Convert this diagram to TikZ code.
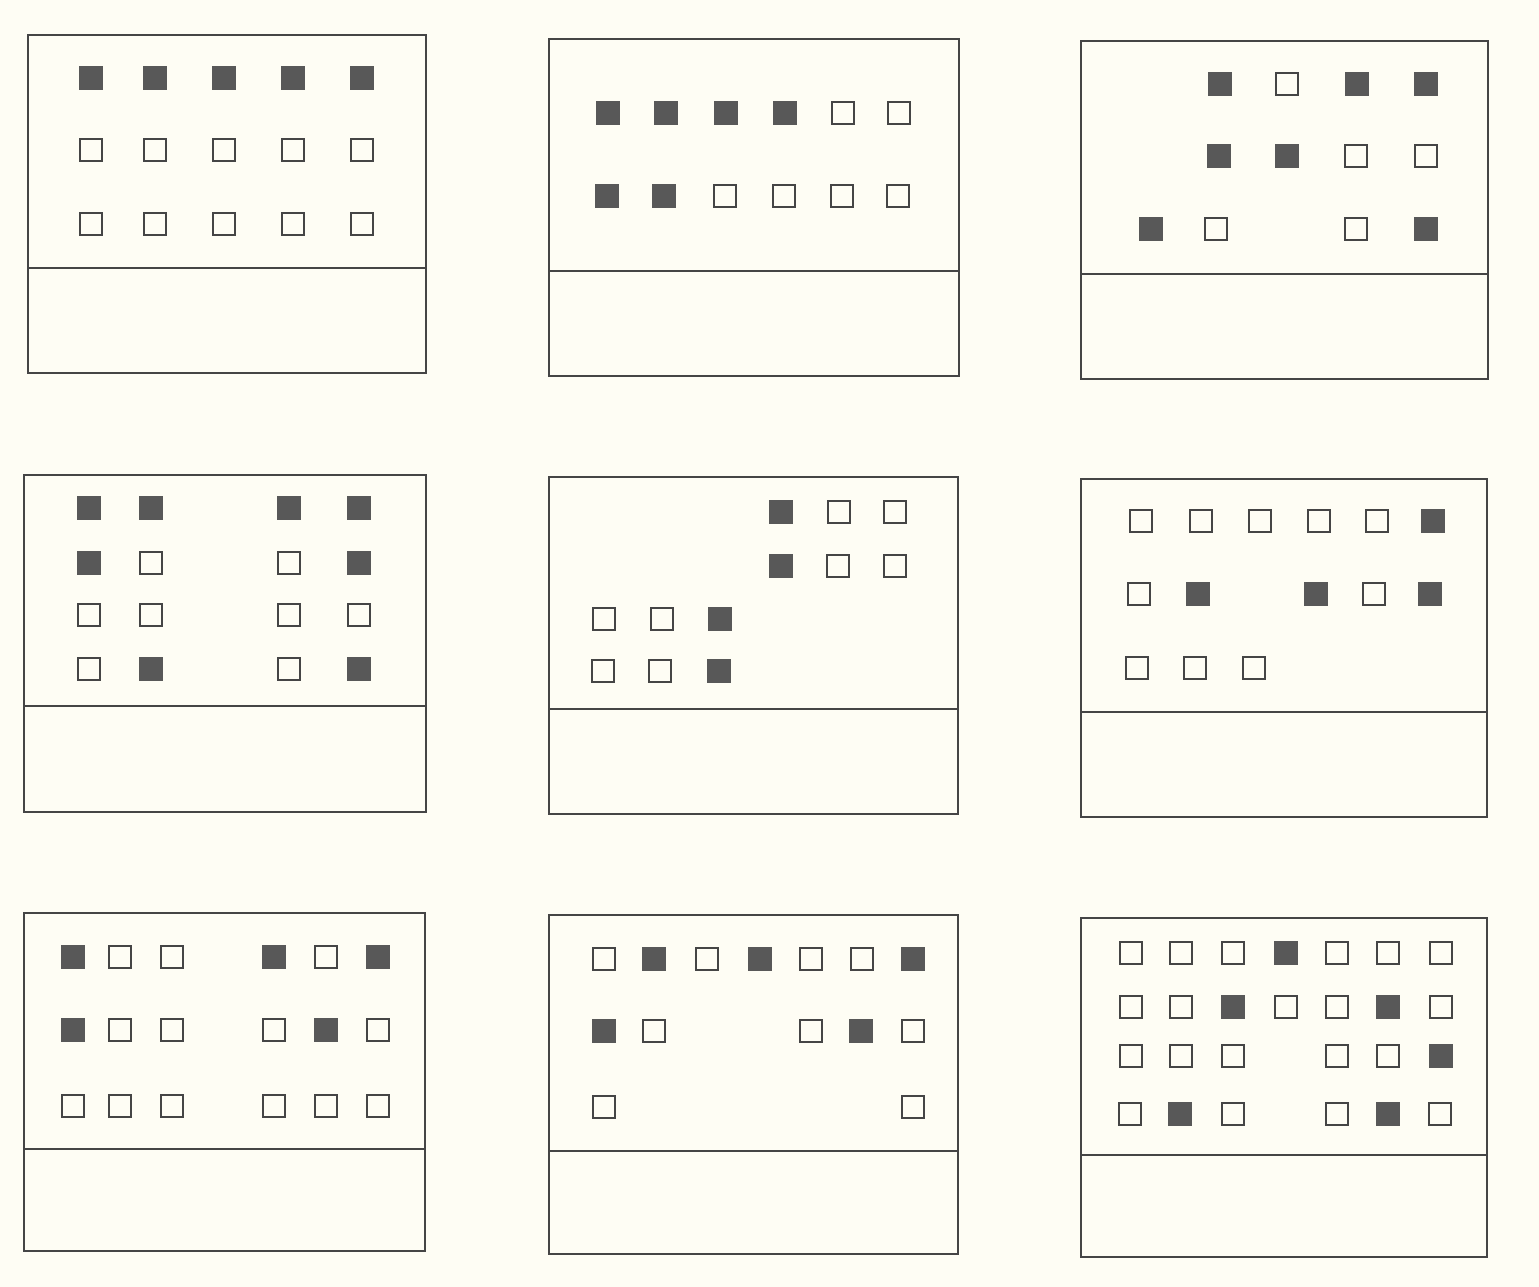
\documentclass[tikz,border=0pt]{standalone}
\usepackage{xcolor}
\usepackage{tikz}
\definecolor{paper}{HTML}{FEFDF4}
\definecolor{ink}{HTML}{454545}
\definecolor{inkfill}{HTML}{585858}
\tikzset{
  panelline/.style={draw=ink, line width=1.3pt},
  sqbase/.style={rectangle, minimum size=0.45cm, inner sep=0pt, line width=1.1pt},
  fullsq/.style={sqbase, fill=inkfill, draw=inkfill},
  opensq/.style={sqbase, fill=paper, draw=ink}
}
\begin{document}
\begin{tikzpicture}[x=0.02cm, y=-0.02cm]
  \fill[paper] (0,0) rectangle (1539,1287);
  \useasboundingbox (0,0) rectangle (1539,1287);

  % Panel 1
  \draw[panelline] (28,35) rectangle (426,373);
  \draw[panelline] (28,268) -- (426,268);
  \foreach \x [count=\i] in {91,155,224,293,362}
    \node[fullsq] (a1\i) at (\x,78) {};
  \foreach \x [count=\i] in {91,155,224,293,362}
    \node[opensq] (a2\i) at (\x,150) {};
  \foreach \x [count=\i] in {91,155,224,293,362}
    \node[opensq] (a3\i) at (\x,224) {};

  % Panel 2
  \draw[panelline] (549,39) rectangle (959,376);
  \draw[panelline] (549,271) -- (959,271);
  \foreach \x/\s [count=\i] in {608/fullsq,666/fullsq,726/fullsq,785/fullsq,843/opensq,899/opensq}
    \node[\s] (b1\i) at (\x,113) {};
  \foreach \x/\s [count=\i] in {607/fullsq,664/fullsq,725/opensq,784/opensq,842/opensq,898/opensq}
    \node[\s] (b2\i) at (\x,196) {};

  % Panel 3
  \draw[panelline] (1081,41) rectangle (1488,379);
  \draw[panelline] (1081,274) -- (1488,274);
  \foreach \x/\s [count=\i] in {1220/fullsq,1287/opensq,1357/fullsq,1426/fullsq}
    \node[\s] (c1\i) at (\x,84) {};
  \foreach \x/\s [count=\i] in {1219/fullsq,1287/fullsq,1356/opensq,1426/opensq}
    \node[\s] (c2\i) at (\x,156) {};
  \foreach \x/\s [count=\i] in {1151/fullsq,1216/opensq,1356/opensq,1426/fullsq}
    \node[\s] (c3\i) at (\x,229) {};

  % Panel 4
  \draw[panelline] (24,475) rectangle (426,812);
  \draw[panelline] (24,706) -- (426,706);
  \foreach \x/\s [count=\i] in {89/fullsq,151/fullsq,289/fullsq,359/fullsq}
    \node[\s] (d1\i) at (\x,508) {};
  \foreach \x/\s [count=\i] in {89/fullsq,151/opensq,289/opensq,359/fullsq}
    \node[\s] (d2\i) at (\x,563) {};
  \foreach \x/\s [count=\i] in {89/opensq,151/opensq,289/opensq,359/opensq}
    \node[\s] (d3\i) at (\x,615) {};
  \foreach \x/\s [count=\i] in {89/opensq,151/fullsq,289/opensq,359/fullsq}
    \node[\s] (d4\i) at (\x,669) {};

  % Panel 5
  \draw[panelline] (549,477) rectangle (958,814);
  \draw[panelline] (549,709) -- (958,709);
  \foreach \x/\s [count=\i] in {781/fullsq,839/opensq,895/opensq}
    \node[\s] (e1\i) at (\x,512) {};
  \foreach \x/\s [count=\i] in {781/fullsq,838/opensq,895/opensq}
    \node[\s] (e2\i) at (\x,566) {};
  \foreach \x/\s [count=\i] in {604/opensq,662/opensq,720/fullsq}
    \node[\s] (e3\i) at (\x,619) {};
  \foreach \x/\s [count=\i] in {603/opensq,660/opensq,719/fullsq}
    \node[\s] (e4\i) at (\x,671) {};

  % Panel 6
  \draw[panelline] (1081,479) rectangle (1487,817);
  \draw[panelline] (1081,712) -- (1487,712);
  \foreach \x/\s [count=\i] in {1141/opensq,1201/opensq,1260/opensq,1319/opensq,1377/opensq,1433/fullsq}
    \node[\s] (f1\i) at (\x,521) {};
  \foreach \x/\s [count=\i] in {1139/opensq,1198/fullsq,1316/fullsq,1374/opensq,1430/fullsq}
    \node[\s] (f2\i) at (\x,594) {};
  \foreach \x/\s [count=\i] in {1137/opensq,1195/opensq,1254/opensq}
    \node[\s] (f3\i) at (\x,668) {};

  % Panel 7
  \draw[panelline] (24,913) rectangle (425,1251);
  \draw[panelline] (24,1149) -- (425,1149);
  \foreach \x/\s [count=\i] in {73/fullsq,120/opensq,172/opensq,274/fullsq,326/opensq,378/fullsq}
    \node[\s] (g1\i) at (\x,957) {};
  \foreach \x/\s [count=\i] in {73/fullsq,120/opensq,172/opensq,274/opensq,326/fullsq,378/opensq}
    \node[\s] (g2\i) at (\x,1030) {};
  \foreach \x/\s [count=\i] in {73/opensq,120/opensq,172/opensq,274/opensq,326/opensq,378/opensq}
    \node[\s] (g3\i) at (\x,1106) {};

  % Panel 8
  \draw[panelline] (549,915) rectangle (958,1254);
  \draw[panelline] (549,1151) -- (958,1151);
  \foreach \x/\s [count=\i] in {604/opensq,654/fullsq,707/opensq,760/fullsq,811/opensq,862/opensq,913/fullsq}
    \node[\s] (h1\i) at (\x,959) {};
  \foreach \x/\s [count=\i] in {604/fullsq,654/opensq,811/opensq,861/fullsq,913/opensq}
    \node[\s] (h2\i) at (\x,1031) {};
  \foreach \x/\s [count=\i] in {604/opensq,913/opensq}
    \node[\s] (h3\i) at (\x,1107) {};

  % Panel 9
  \draw[panelline] (1081,918) rectangle (1487,1257);
  \draw[panelline] (1081,1155) -- (1487,1155);
  \foreach \x/\s [count=\i] in {1131/opensq,1181/opensq,1233/opensq,1286/fullsq,1337/opensq,1388/opensq,1441/opensq}
    \node[\s] (k1\i) at (\x,953) {};
  \foreach \x/\s [count=\i] in {1131/opensq,1181/opensq,1233/fullsq,1286/opensq,1337/opensq,1388/fullsq,1441/opensq}
    \node[\s] (k2\i) at (\x,1007) {};
  \foreach \x/\s [count=\i] in {1131/opensq,1181/opensq,1233/opensq,1337/opensq,1388/opensq,1441/fullsq}
    \node[\s] (k3\i) at (\x,1056) {};
  \foreach \x/\s [count=\i] in {1130/opensq,1180/fullsq,1233/opensq,1337/opensq,1388/fullsq,1440/opensq}
    \node[\s] (k4\i) at (\x,1114) {};
\end{tikzpicture}
\end{document}
